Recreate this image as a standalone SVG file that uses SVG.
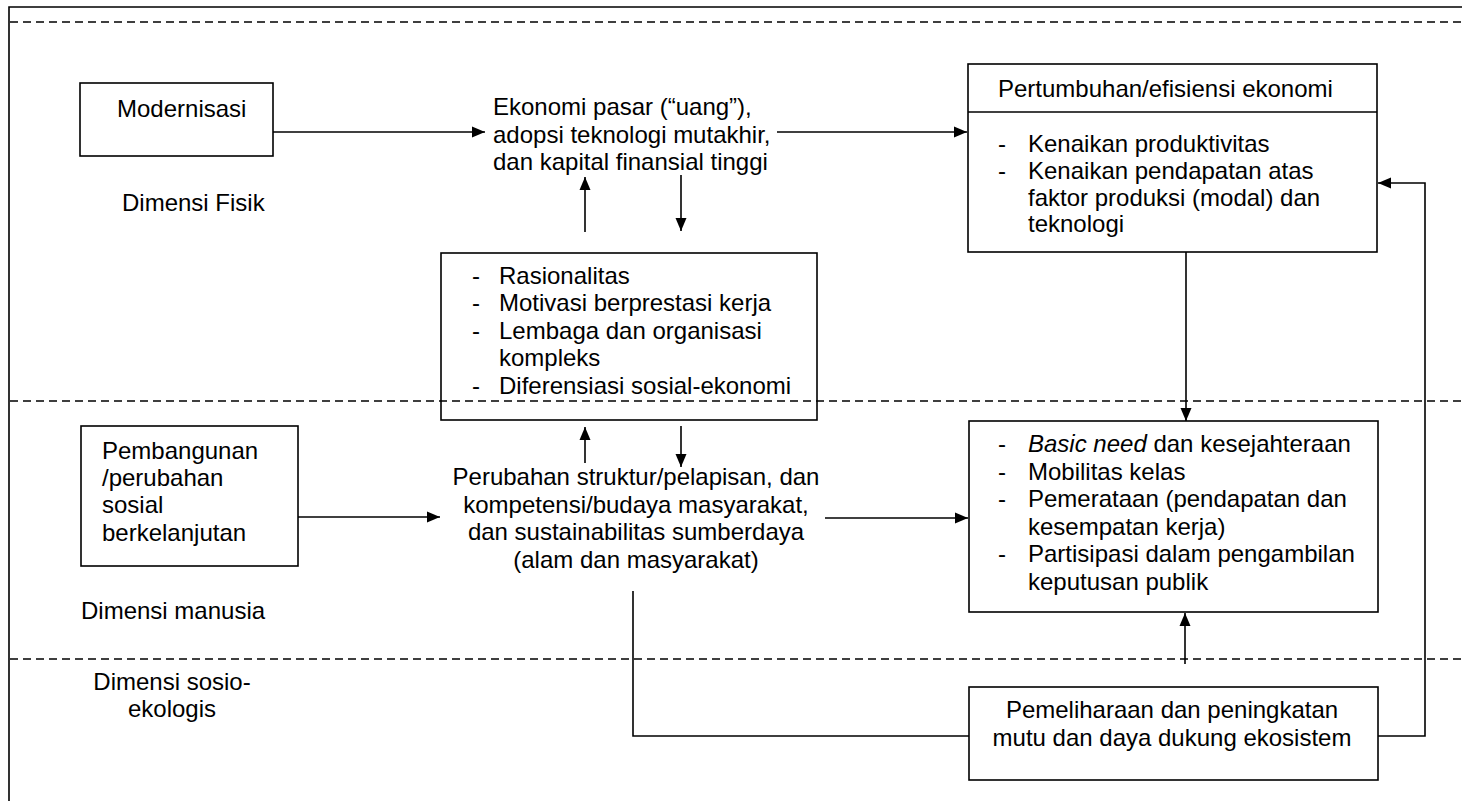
<svg xmlns="http://www.w3.org/2000/svg" width="1462" height="801" viewBox="0 0 1462 801">
<style>
  .bg { fill: #ffffff; }
  .box { fill: none; stroke: #000; stroke-width: 1.6; }
  .frame { fill: none; stroke: #000; stroke-width: 1.6; }
  .dash { fill: none; stroke: #000; stroke-width: 1.4; stroke-dasharray: 8 5; }
  .line { fill: none; stroke: #000; stroke-width: 1.6; }
  .arr { fill: none; stroke: #000; stroke-width: 1.6; marker-end: url(#ah); }
  text { font-family: "Liberation Sans", Arial, sans-serif; font-size: 24px; fill: #000; }
  .c { text-anchor: middle; }
</style>
<defs>
  <marker id="ah" markerUnits="userSpaceOnUse" markerWidth="14" markerHeight="12" refX="13" refY="6" orient="auto">
    <path d="M0,0.5 L13,6 L0,11.5 z" fill="#000"/>
  </marker>
</defs>
<rect class="bg" x="0" y="0" width="1462" height="801"/>

<g id="frame">
  <path class="frame" d="M9,801 L9,7 L1462,7"/>
  <line class="dash" x1="10" y1="22" x2="1462" y2="22"/>
  <line class="dash" x1="10" y1="401" x2="1462" y2="401"/>
  <line class="dash" x1="10" y1="659" x2="1462" y2="659"/>
</g>

<g id="labels">
  <text x="122" y="211">Dimensi Fisik</text>
  <text x="81" y="619">Dimensi manusia</text>
  <text class="c" x="172" y="690">Dimensi sosio-</text>
  <text class="c" x="172" y="717">ekologis</text>
</g>

<g id="modernisasi">
  <rect class="box" x="80" y="83" width="193" height="73"/>
  <text x="117" y="117">Modernisasi</text>
</g>

<g id="ekonomi-pasar">
  <text x="493" y="115">Ekonomi pasar (“uang”),</text>
  <text x="493" y="142.6">adopsi teknologi mutakhir,</text>
  <text x="493" y="170.2">dan kapital finansial tinggi</text>
</g>

<g id="pertumbuhan">
  <rect class="box" x="968" y="64" width="409" height="188"/>
  <line class="box" x1="968" y1="112" x2="1377" y2="112"/>
  <text x="998" y="97">Pertumbuhan/efisiensi ekonomi</text>
  <text x="998" y="152">-</text><text x="1028" y="152">Kenaikan produktivitas</text>
  <text x="998" y="179">-</text><text x="1028" y="179">Kenaikan pendapatan atas</text>
  <text x="1028" y="205.5">faktor produksi (modal) dan</text>
  <text x="1028" y="232">teknologi</text>
</g>

<g id="rasionalitas">
  <rect class="box" x="441" y="253" width="376" height="167"/>
  <text x="472" y="283.5">-</text><text x="499" y="283.5">Rasionalitas</text>
  <text x="472" y="311.1">-</text><text x="499" y="311.1">Motivasi berprestasi kerja</text>
  <text x="472" y="338.7">-</text><text x="499" y="338.7">Lembaga dan organisasi</text>
  <text x="499" y="366.3">kompleks</text>
  <text x="472" y="393.9">-</text><text x="499" y="393.9">Diferensiasi sosial-ekonomi</text>
</g>

<g id="pembangunan">
  <rect class="box" x="81" y="426" width="217" height="140"/>
  <text x="102" y="459">Pembangunan</text>
  <text x="102" y="486">/perubahan</text>
  <text x="102" y="513">sosial</text>
  <text x="102" y="541">berkelanjutan</text>
</g>

<g id="perubahan-struktur">
  <text class="c" x="636" y="485">Perubahan struktur/pelapisan, dan</text>
  <text class="c" x="636" y="512.6">kompetensi/budaya masyarakat,</text>
  <text class="c" x="636" y="540.2">dan sustainabilitas sumberdaya</text>
  <text class="c" x="636" y="567.8">(alam dan masyarakat)</text>
</g>

<g id="basic-need">
  <rect class="box" x="969" y="421" width="409" height="191"/>
  <text x="998" y="452">-</text><text x="1028" y="452"><tspan font-style="italic">Basic need</tspan> dan kesejahteraan</text>
  <text x="998" y="479.6">-</text><text x="1028" y="479.6">Mobilitas kelas</text>
  <text x="998" y="507.2">-</text><text x="1028" y="507.2">Pemerataan (pendapatan dan</text>
  <text x="1028" y="534.8">kesempatan kerja)</text>
  <text x="998" y="562.4">-</text><text x="1028" y="562.4">Partisipasi dalam pengambilan</text>
  <text x="1028" y="590">keputusan publik</text>
</g>

<g id="pemeliharaan">
  <rect class="box" x="969" y="687" width="409" height="93"/>
  <text class="c" x="1172" y="718">Pemeliharaan dan peningkatan</text>
  <text class="c" x="1172" y="746">mutu dan daya dukung ekosistem</text>
</g>

<g id="connectors">
  <line class="arr" x1="273" y1="132" x2="485" y2="132"/>
  <line class="arr" x1="777" y1="132" x2="967" y2="132"/>
  <line class="arr" x1="585" y1="232" x2="585" y2="177"/>
  <line class="arr" x1="681" y1="175" x2="681" y2="231"/>
  <line class="arr" x1="585" y1="463" x2="585" y2="427"/>
  <line class="arr" x1="681" y1="426" x2="681" y2="467"/>
  <line class="arr" x1="298" y1="517" x2="440" y2="517"/>
  <line class="arr" x1="825" y1="518" x2="968" y2="518"/>
  <line class="arr" x1="1186" y1="252" x2="1186" y2="421"/>
  <line class="arr" x1="1185" y1="664" x2="1185" y2="613"/>
  <path class="line" d="M633,591 L633,736 L969,736"/>
  <path class="arr" d="M1378,736 L1425,736 L1425,183 L1378,183"/>
</g>
</svg>
